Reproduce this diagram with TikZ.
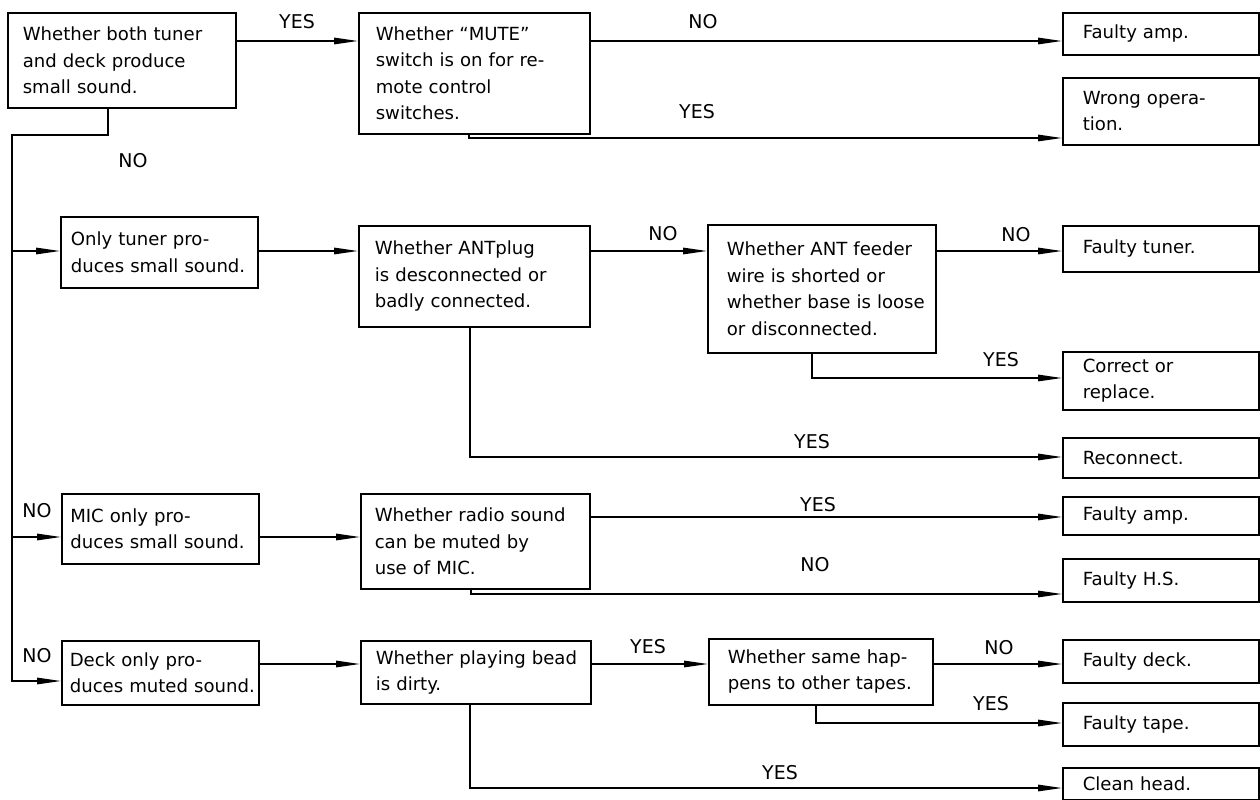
\documentclass[tikz,border=0pt]{standalone}
\usepackage{fontspec}
\setmainfont{DejaVu Sans}
\usetikzlibrary{arrows.meta}

\begin{document}
\begin{tikzpicture}[
    x=0.02cm, y=-0.02cm,
    box/.style={
      draw, line width=0.9pt, anchor=north west, inner sep=0pt,
      align=left, font=\fontsize{10.3}{15}\selectfont
    },
    pad/.style={execute at begin node={\leftskip=#1\relax}},
    result/.style={box, pad=0.4cm, text width=3.92cm},
    lbl/.style={font=\fontsize{10.8}{12}\selectfont, inner sep=0pt},
    wire/.style={line width=0.8pt},
    >={Triangle[length=0.48cm, width=0.13cm]}
]
  \useasboundingbox (0,0) rectangle (1260,800);

  % Question boxes
  \node[box, pad=0.3cm, text width=4.56cm, minimum height=1.9cm] (both) at (7,12) {Whether both tuner\\and deck produce\\small sound.};
  \node[box, pad=0.34cm, text width=4.62cm, minimum height=2.42cm] (mute) at (358,12) {Whether “MUTE”\\switch is on for re-\\mote control\\switches.};
  \node[box, pad=0.2cm, text width=3.94cm, minimum height=1.42cm] (tuner) at (60,216) {Only tuner pro-\\duces small sound.};
  \node[box, pad=0.32cm, text width=4.62cm, minimum height=2.02cm] (antplug) at (358,225) {Whether ANTplug\\is desconnected or\\badly connected.};
  \node[box, pad=0.38cm, text width=4.56cm, minimum height=2.56cm] (feeder) at (707,224) {Whether ANT feeder\\wire is shorted or\\whether base is loose\\or disconnected.};
  \node[box, pad=0.17cm, text width=3.94cm, minimum height=1.4cm] (mic) at (61,493) {MIC only pro-\\duces small sound.};
  \node[box, pad=0.28cm, text width=4.58cm, minimum height=1.9cm] (radio) at (360,493) {Whether radio sound\\can be muted by\\use of MIC.};
  \node[box, pad=0.16cm, text width=3.94cm, minimum height=1.28cm] (deck) at (61,640) {Deck only pro-\\duces muted sound.};
  \node[box, pad=0.3cm, text width=4.6cm, minimum height=1.26cm] (bead) at (360,640) {Whether playing bead\\is dirty.};
  \node[box, pad=0.38cm, text width=4.48cm, minimum height=1.32cm] (same) at (708,638) {Whether same hap-\\pens to other tapes.};

  % Result boxes
  \foreach \n/\y/\h/\txt in {amp1/12/0.84/{Faulty amp.}, wrong/77/1.34/{Wrong opera-\\tion.},
      ftuner/225/0.92/{Faulty tuner.}, correct/351/1.16/{Correct or\\replace.},
      reconnect/437/0.8/{Reconnect.}, amp2/496/0.76/{Faulty amp.}, fhs/558/0.86/{Faulty H.S.},
      fdeck/639/0.86/{Faulty deck.}, ftape/702/0.86/{Faulty tape.}, clean/767/0.64/{Clean head.}}
  \node[result, minimum height=\h cm] (\n) at (1062,\y) {\txt};

  % Levels of the horizontal runs
  \foreach \n/\y in {a/41, b/138, c/251, d/378, e/457, f/517, g/537, h/594, i/664, j/681, k/723, l/788, m/135}
  \coordinate (lv\n) at (0,\y);

  % Drop points below the boxes
  \coordinate (dBoth) at (108,0);
  \coordinate (dMute) at (469,0);
  \coordinate (dPlug) at (470,0);
  \coordinate (dFeed) at (812,0);
  \coordinate (dRadio) at (471,0);
  \coordinate (dBead) at (470,0);
  \coordinate (dSame) at (816,0);
  \coordinate (trunk) at (12,0);

  % Connections from the first question
  \draw[wire,->] (both.east |- lva) -- (mute.west |- lva);
  \draw[wire,->] (mute.east |- lva) -- (amp1.west |- lva);
  \draw[wire,->] (mute.south -| dMute) |- (wrong.west |- lvb);
  \draw[wire,->] (both.south -| dBoth) |- (trunk |- lvm) |- (deck.west |- lvj);
  \draw[wire,->] (trunk |- lvc) -- (tuner.west |- lvc);
  \draw[wire,->] (trunk |- lvg) -- (mic.west |- lvg);

  % Connections for the tuner
  \draw[wire,->] (tuner.east |- lvc) -- (antplug.west |- lvc);
  \draw[wire,->] (antplug.east |- lvc) -- (feeder.west |- lvc);
  \draw[wire,->] (feeder.east |- lvc) -- (ftuner.west |- lvc);
  \draw[wire,->] (feeder.south -| dFeed) |- (correct.west |- lvd);
  \draw[wire,->] (antplug.south -| dPlug) |- (reconnect.west |- lve);

  % Connections for the MIC
  \draw[wire,->] (mic.east |- lvg) -- (radio.west |- lvg);
  \draw[wire,->] (radio.east |- lvf) -- (amp2.west |- lvf);
  \draw[wire,->] (radio.south -| dRadio) |- (fhs.west |- lvh);

  % Connections for the deck
  \draw[wire,->] (deck.east |- lvi) -- (bead.west |- lvi);
  \draw[wire,->] (bead.east |- lvi) -- (same.west |- lvi);
  \draw[wire,->] (same.east |- lvi) -- (fdeck.west |- lvi);
  \draw[wire,->] (same.south -| dSame) |- (ftape.west |- lvk);
  \draw[wire,->] (bead.south -| dBead) |- (clean.west |- lvl);

  % Branch labels
  \foreach \txt/\x/\y [count=\i] in {YES/297/22, NO/703/22, YES/697/112, NO/133/161,
      NO/663/234, NO/1016/235, YES/1001/360, YES/812/442, YES/818/505, NO/815/565,
      NO/37/511, NO/37/656, YES/648/647, NO/999/648, YES/991/704, YES/780/773}
  \node[lbl] (lab\i) at (\x,\y) {\txt};

\end{tikzpicture}
\end{document}
